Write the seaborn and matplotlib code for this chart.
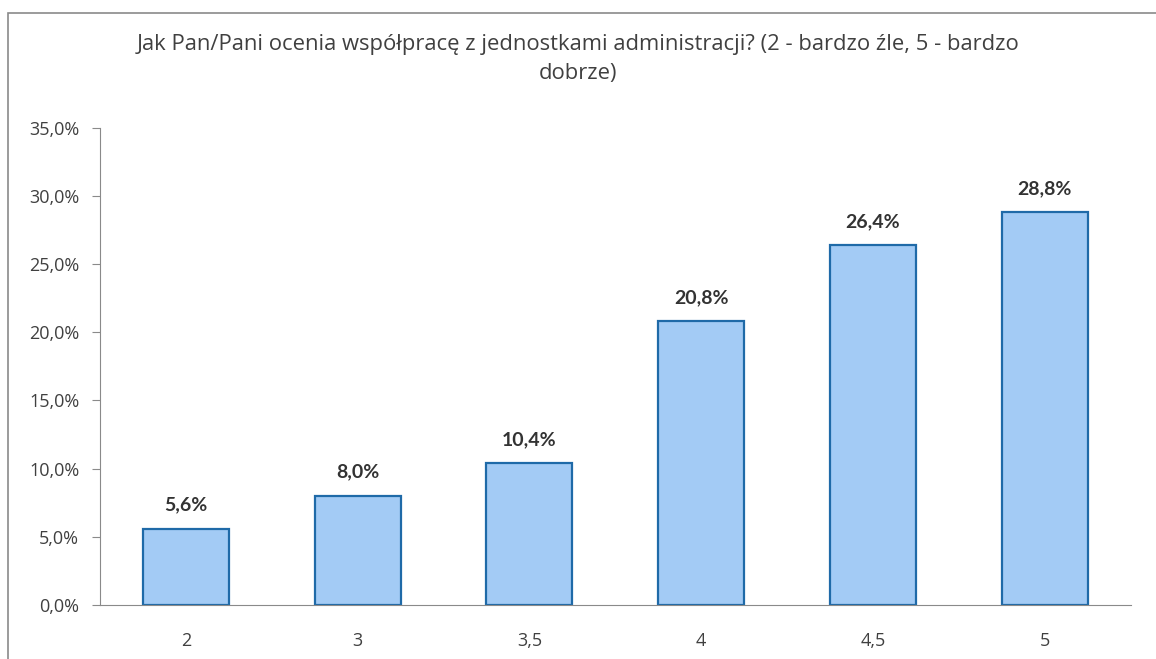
import matplotlib
matplotlib.use("Agg")
import matplotlib.pyplot as plt
import seaborn as sns
import pandas as pd
from matplotlib.patches import Rectangle

categories = ["2", "3", "3,5", "4", "4,5", "5"]
values = [5.6, 8.0, 10.4, 20.8, 26.4, 28.8]
value_labels = ["5,6%", "8,0%", "10,4%", "20,8%", "26,4%", "28,8%"]
ytick_values = [0, 5, 10, 15, 20, 25, 30, 35]
ytick_labels = ["0,0%", "5,0%", "10,0%", "15,0%", "20,0%", "25,0%", "30,0%", "35,0%"]
title = "Jak Pan/Pani ocenia współpracę z jednostkami administracji? (2 - bardzo źle, 5 - bardzo\ndobrze)"

sns.set_style("white")
plt.rcParams['font.family'] = ['Open Sans', 'DejaVu Sans']

df = pd.DataFrame({"kat": categories, "val": values})

fig = plt.figure(figsize=(11.56, 6.59), dpi=100)
ax = fig.add_axes([0.0865, 0.082, 0.8915, 0.724])

sns.barplot(data=df, x="kat", y="val", ax=ax, color="#a3cbf5", width=0.5,
            edgecolor="#1f6aa8", linewidth=1.6, saturation=1)

ax.set_ylim(0, 35)
ax.set_xlim(-0.5, len(categories) - 0.5)
ax.set_yticks(ytick_values)
ax.set_yticklabels(ytick_labels)
ax.set_xlabel("")
ax.set_ylabel("")
for s in ["top", "right"]:
    ax.spines[s].set_visible(False)
ax.spines["left"].set_color("#8a8a8a")
ax.spines["bottom"].set_color("#8a8a8a")
ax.tick_params(axis="y", left=True, length=6, color="#8a8a8a", labelsize=13, labelcolor="#404040", pad=9)
ax.tick_params(axis="x", bottom=False, labelsize=13, labelcolor="#404040", pad=16)

for i, (v, lab) in enumerate(zip(values, value_labels)):
    ax.annotate(lab, (i, v), xytext=(0, 11), textcoords="offset points",
                ha="center", va="bottom", fontsize=14, fontweight="bold", color="#333333",
                family=["Lato", "DejaVu Sans"])

fig.text(0.5, 0.948, title, ha="center", va="top", fontsize=15.8, color="#404040", linespacing=1.5)

fig.patches.append(Rectangle((8/1156, -0.01), 1.0, 0.995 - 10/659 + 0.01, transform=fig.transFigure,
                             fill=False, edgecolor="#8a8a8a", linewidth=1.2))

fig.savefig("out.png", dpi=100)
